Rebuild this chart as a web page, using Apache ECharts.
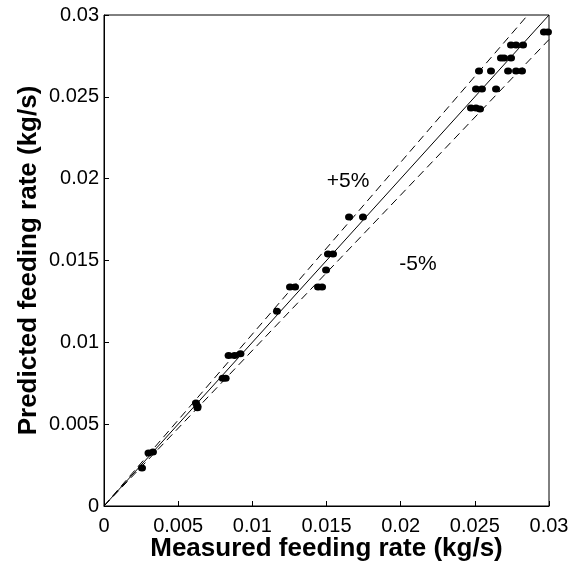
<!DOCTYPE html>
<html>
<head>
<meta charset="utf-8">
<script src="https://cdn.jsdelivr.net/npm/echarts@6/dist/echarts.min.js"></script>
<style>html,body{margin:0;padding:0;background:#fff;}#c{width:571px;height:562px;}</style>
</head>
<body>
<div id="c"></div>
<script>
const measured = [0.00256, 0.0030, 0.0033, 0.0062, 0.0063, 0.0063, 0.0080, 0.0082, 0.0084, 0.0088, 0.0092,
  0.01166, 0.01254, 0.01288, 0.01443, 0.0147, 0.01497, 0.0151, 0.01544, 0.01652, 0.01746,
  0.02474, 0.02508, 0.02535, 0.02508, 0.02548, 0.02643, 0.02528, 0.02609, 0.02724, 0.02778, 0.02818,
  0.02676, 0.02697, 0.02744, 0.02744, 0.02778, 0.02825, 0.02966, 0.02993];
const predicted = [0.00232, 0.00324, 0.00330, 0.0063, 0.0060, 0.0061, 0.0078, 0.0078, 0.0092, 0.0092, 0.0093,
  0.0119, 0.01338, 0.01338, 0.01338, 0.01338, 0.01442, 0.0154, 0.0154, 0.01766, 0.01766,
  0.02432, 0.02432, 0.02426, 0.02548, 0.02548, 0.02548, 0.02658, 0.02658, 0.02658, 0.02658, 0.02658,
  0.02737, 0.02737, 0.02737, 0.02817, 0.02817, 0.02817, 0.02896, 0.02896];
const axisTicks = [0, 0.005, 0.01, 0.015, 0.02, 0.025, 0.03];
const guideX = [0, 0.03];
const guideFactors = [1, 1.05, 0.95];
const guideLabels = ['+5%', '-5%'];

const FONT = 'Liberation Sans, Arial, sans-serif';
const points = measured.map((m, i) => [m, predicted[i]]);
const guide = f => guideX.map(x => [x, x * f]);

function axisCommon(margin) {
  return {
    min: axisTicks[0], max: axisTicks[axisTicks.length - 1], interval: 0.005,
    splitLine: {show: false},
    axisLine: {show: true, onZero: false, lineStyle: {color: '#000', width: 1}},
    axisTick: {show: true, inside: true, length: 5, lineStyle: {color: '#000'}},
    axisLabel: {color: '#000', fontFamily: FONT, fontSize: 20, margin: margin,
      formatter: v => String(+v.toFixed(4))},
    nameLocation: 'middle',
    nameMoveOverlap: false,
    nameTextStyle: {color: '#000', fontFamily: FONT, fontSize: 26, fontWeight: 'bold'}
  };
}

const chart = echarts.init(document.getElementById('c'), null, {renderer: 'canvas'});
chart.setOption({
  animation: false,
  backgroundColor: '#fff',
  grid: {left: 104, right: 22, top: 15, bottom: 56, containLabel: false, outerBoundsMode: 'none',
    show: true, borderColor: '#000', borderWidth: 1, backgroundColor: 'transparent'},
  xAxis: Object.assign({type: 'value', name: 'Measured feeding rate (kg/s)', nameGap: 30}, axisCommon(10)),
  yAxis: Object.assign({type: 'value', name: 'Predicted feeding rate (kg/s)', nameGap: 62}, axisCommon(5)),
  graphic: [
    {type: 'text', x: 348, y: 181, style: {text: guideLabels[0], fontFamily: FONT, fontSize: 21, fill: '#000', textAlign: 'center', textVerticalAlign: 'middle'}},
    {type: 'text', x: 418, y: 264, style: {text: guideLabels[1], fontFamily: FONT, fontSize: 21, fill: '#000', textAlign: 'center', textVerticalAlign: 'middle'}}
  ],
  series: [
    {type: 'line', data: guide(guideFactors[0]), showSymbol: false, symbol: 'none', clip: true,
      lineStyle: {color: '#000', width: 1, type: 'solid'}, z: 2},
    {type: 'line', data: guide(guideFactors[1]), showSymbol: false, symbol: 'none', clip: true,
      lineStyle: {color: '#000', width: 1, type: [8, 5]}, z: 2},
    {type: 'line', data: guide(guideFactors[2]), showSymbol: false, symbol: 'none', clip: true,
      lineStyle: {color: '#000', width: 1, type: [8, 5]}, z: 2},
    {type: 'scatter', data: points, symbol: 'circle', symbolSize: [8, 7],
      itemStyle: {color: '#000', opacity: 1}, z: 3}
  ]
});
</script>
</body>
</html>
